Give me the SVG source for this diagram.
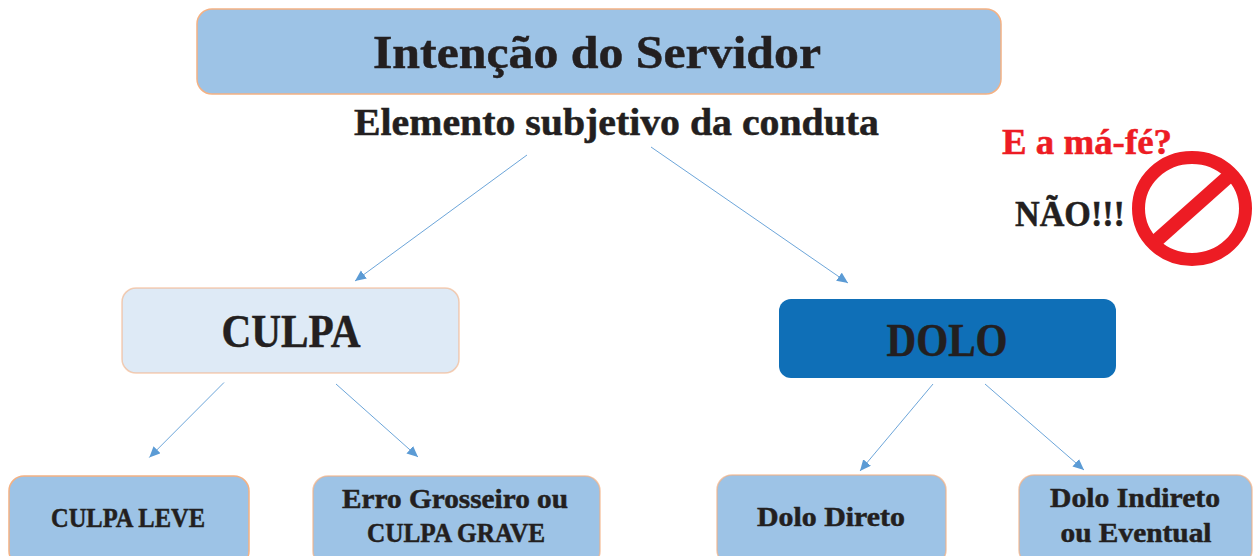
<svg xmlns="http://www.w3.org/2000/svg" width="1259" height="556" viewBox="0 0 1259 556">
<style>
text{font-family:"Liberation Serif","DejaVu Serif",serif;font-weight:700;fill:#231f20;text-anchor:middle;stroke:#231f20;stroke-width:.5}
.box{stroke:#f4b183;stroke-width:1.5}
.mid{fill:#9dc3e6}
.line{stroke:#5b9bd5;stroke-width:.9;fill:none;marker-end:url(#a)}
</style>
<defs><marker id="a" markerUnits="userSpaceOnUse" markerWidth="12" markerHeight="11" refX="11" refY="5" orient="auto"><path d="M0 0L11 5L0 10z" fill="#5b9bd5"/></marker></defs>
<rect width="1259" height="556" fill="#fff"/>
<g id="connectors">
<path class="line" d="M527 155L355 281"/>
<path class="line" d="M651 147L848 283"/>
<path class="line" d="M224 382.500L149.300 457.500"/>
<path class="line" d="M336 384L418 457"/>
<path class="line" d="M933 384L860 471"/>
<path class="line" d="M985 384L1084 470"/>
</g>
<g id="n-intencao"><rect class="box mid" x="197" y="9" width="804" height="85" rx="15"/><text x="597" y="68" font-size="47" textLength="448" lengthAdjust="spacingAndGlyphs">Intenção do Servidor</text></g>
<g id="n-elemento"><text x="616.500" y="135" font-size="37" textLength="525" lengthAdjust="spacingAndGlyphs">Elemento subjetivo da conduta</text></g>
<g id="n-mafe"><text x="1087" y="154" font-size="35" style="fill:#ed1c24;stroke:#ed1c24" textLength="170" lengthAdjust="spacingAndGlyphs">E a má-fé?</text></g>
<g id="n-nao"><text x="1070" y="226" font-size="36" textLength="110" lengthAdjust="spacingAndGlyphs">NÃO!!!</text></g>
<g id="n-proibido"><ellipse cx="1192" cy="208.500" rx="53.500" ry="51" fill="#fff" stroke="#ed1c24" stroke-width="13"/><path d="M1156 241L1229 176" stroke="#ed1c24" stroke-width="14"/></g>
<g id="n-culpa"><rect class="box" fill="#deeaf6" x="122" y="288" width="337" height="85" rx="14" stroke-opacity=".6"/><text x="291" y="347" font-size="47" textLength="139" lengthAdjust="spacingAndGlyphs">CULPA</text></g>
<g id="n-dolo"><rect x="779" y="299" width="337" height="79" rx="12" fill="#0f6fb7"/><text x="947" y="356" font-size="47" textLength="121" lengthAdjust="spacingAndGlyphs">DOLO</text></g>
<g id="n-leve"><rect class="box mid" x="9" y="476" width="240" height="90" rx="15"/><text x="128" y="527" font-size="27" textLength="154" lengthAdjust="spacingAndGlyphs">CULPA LEVE</text></g>
<g id="n-grave"><rect class="box mid" x="313" y="476" width="287" height="90" rx="15" stroke-opacity=".7"/><text x="455" y="508" font-size="27" textLength="226" lengthAdjust="spacingAndGlyphs">Erro Grosseiro ou</text><text x="456" y="542" font-size="27" textLength="178" lengthAdjust="spacingAndGlyphs">CULPA GRAVE</text></g>
<g id="n-direto"><rect class="box mid" x="717" y="475" width="229" height="90" rx="15" stroke-opacity=".7"/><text x="831" y="526" font-size="27" textLength="148" lengthAdjust="spacingAndGlyphs">Dolo Direto</text></g>
<g id="n-indireto"><rect class="box mid" x="1019" y="475" width="233" height="90" rx="15" stroke-opacity=".7"/><text x="1135" y="507" font-size="27" textLength="170" lengthAdjust="spacingAndGlyphs">Dolo Indireto</text><text x="1136" y="542" font-size="27" textLength="151" lengthAdjust="spacingAndGlyphs">ou Eventual</text></g>
</svg>
